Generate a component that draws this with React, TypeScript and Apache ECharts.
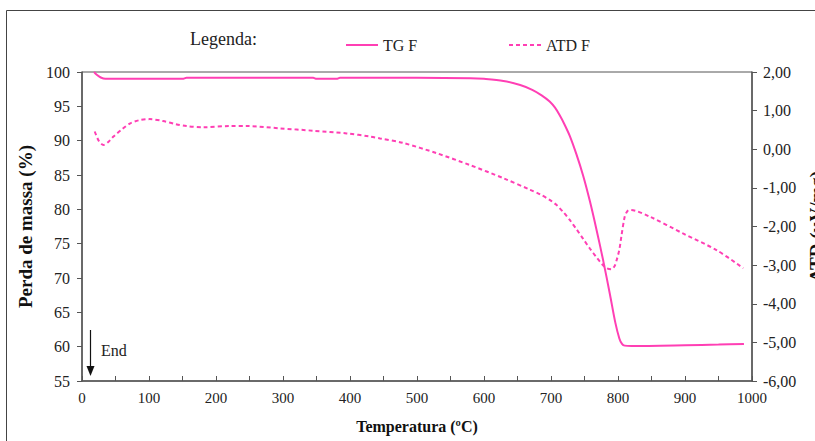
import React, { useEffect, useRef } from "react";
import * as echarts from "echarts";

const tgTemp = [18, 22, 28, 35, 60, 150, 156, 200, 345, 350, 380, 385, 500, 580, 600, 629, 654, 672, 686, 698, 706, 713, 720, 728, 738, 748, 758, 768, 778, 788, 796, 802, 806, 810, 820, 900, 950, 988];
const tgMass = [100, 99.6, 99.2, 99.0, 99.0, 99.0, 99.15, 99.15, 99.15, 99.0, 99.0, 99.15, 99.15, 99.1, 99.0, 98.7, 98.1, 97.4, 96.6, 95.7, 94.8, 93.7, 92.4, 90.7, 88.0, 84.9, 81.2, 77.0, 72.5, 67.6, 63.5, 61.2, 60.4, 60.15, 60.1, 60.2, 60.3, 60.4];

const atdTemp = [19, 25, 32, 40, 47, 60, 72, 85, 101, 121, 140, 156, 181, 221, 246, 296, 345, 395, 430, 445, 480, 529, 579, 629, 669, 684, 698, 708, 718, 728, 738, 748, 758, 768, 776, 783, 790, 795, 798, 802, 805, 810, 814, 818, 848, 897, 947, 987];
const atdSignal = [0.46, 0.22, 0.11, 0.2, 0.33, 0.52, 0.67, 0.75, 0.78, 0.73, 0.65, 0.6, 0.57, 0.6, 0.6, 0.54, 0.48, 0.41, 0.33, 0.28, 0.16, -0.1, -0.41, -0.75, -1.05, -1.17, -1.31, -1.44, -1.62, -1.83, -2.07, -2.32, -2.57, -2.8, -2.97, -3.08, -3.11, -3.02, -2.87, -2.6, -2.26, -1.75, -1.6, -1.57, -1.75, -2.18, -2.61, -3.08];

const seriesNames = ["TG F", "ATD F"];

const FONT = "Liberation Serif";
const PINK = "#ff3fb4";
const AXIS = "#555555";

export default function App() {
  const ref = useRef<HTMLDivElement>(null);
  useEffect(() => {
    if (!ref.current) return;
    const chart = echarts.init(ref.current, undefined, { renderer: "svg" });
    const tgData = tgTemp.map((t, i) => [t, tgMass[i]]);
    const atdData = atdTemp.map((t, i) => [t, atdSignal[i]]);
    chart.setOption({
      animation: false,
      backgroundColor: "#ffffff",
      textStyle: { fontFamily: FONT },
      grid: {
        left: 82, right: 63, top: 72, bottom: 60, show: true, borderColor: AXIS, borderWidth: 1,
        backgroundColor: "transparent", containLabel: false, outerBoundsMode: "none",
      },
      legend: [
        {
          data: [seriesNames[0]], left: 340, top: 32, itemWidth: 32, itemHeight: 10, itemGap: 6,
          itemStyle: { opacity: 0 },
          textStyle: { fontFamily: FONT, fontSize: 16, color: "#222" },
        },
        {
          data: [seriesNames[1]], left: 503, top: 32, itemWidth: 32, itemHeight: 10, itemGap: 6,
          itemStyle: { opacity: 0 },
          textStyle: { fontFamily: FONT, fontSize: 16, color: "#222" },
        },
      ],
      graphic: [
        { type: "rect", shape: { x: 6.5, y: 10.5, width: 900, height: 600 }, style: { fill: "none", stroke: "#444", lineWidth: 1 }, silent: true },
        { type: "text", left: 190, top: 30, style: { text: "Legenda:", font: `18px '${FONT}'`, fill: "#222" } },
        { type: "line", shape: { x1: 90.5, y1: 330, x2: 90.5, y2: 368 }, style: { stroke: "#111", lineWidth: 1.2 } },
        { type: "polygon", shape: { points: [[86.5, 366], [94.5, 366], [90.5, 376]] }, style: { fill: "#111" } },
        { type: "text", left: 101, top: 342, style: { text: "End", font: `16px '${FONT}'`, fill: "#222" } },
      ],
      xAxis: {
        type: "value", min: 0, max: 1000, interval: 50,
        name: "Temperatura (ºC)", nameLocation: "middle", nameGap: 37,
        nameTextStyle: { fontFamily: FONT, fontSize: 16, fontWeight: "bold", color: "#111" },
        axisLine: { onZero: false, lineStyle: { color: AXIS, width: 1.5 } },
        axisTick: { inside: true, length: 5, lineStyle: { color: AXIS } },
        axisLabel: { interval: 1, margin: 9, fontFamily: FONT, fontSize: 15, color: "#222",
          formatter: (v: number) => (v % 100 === 0 ? String(v) : "") },
        splitLine: { show: false },
      },
      yAxis: [
        {
          type: "value", min: 55, max: 100, interval: 5, position: "left",
          name: "Perda de massa (%)", nameLocation: "middle", nameGap: 44,
          nameTextStyle: { fontFamily: FONT, fontSize: 19, fontWeight: "bold", color: "#111" },
          axisLine: { show: true, onZero: false, lineStyle: { color: AXIS, width: 1.5 } },
          axisTick: { show: true, inside: false, length: 5, lineStyle: { color: AXIS } },
          axisLabel: { margin: 12, fontFamily: FONT, fontSize: 16, color: "#222" },
          splitLine: { show: false },
        },
        {
          type: "value", min: -6, max: 2, interval: 1, position: "right",
          name: "ATD (µV/mg)", nameLocation: "middle", nameGap: 48,
          nameTextStyle: { fontFamily: FONT, fontSize: 19, fontWeight: "bold", color: "#111" },
          axisLine: { show: true, onZero: false, lineStyle: { color: AXIS, width: 1.5 } },
          axisTick: { show: true, inside: false, length: 5, lineStyle: { color: AXIS } },
          axisLabel: { margin: 11, fontFamily: FONT, fontSize: 16, color: "#222",
            formatter: (v: number) => v.toFixed(2).replace(".", ",") },
          splitLine: { show: false },
        },
      ],
      series: [
        {
          name: seriesNames[0], type: "line", yAxisIndex: 0, data: tgData, showSymbol: false, symbol: "none",
          smooth: 0.3,
          lineStyle: { color: PINK, width: 2 }, itemStyle: { color: PINK },
        },
        {
          name: seriesNames[1], type: "line", yAxisIndex: 1, data: atdData, showSymbol: false, symbol: "none",
          smooth: 0.3,
          lineStyle: { color: PINK, width: 2, type: [4, 3] }, itemStyle: { color: PINK },
        },
      ],
    });
    return () => chart.dispose();
  }, []);
  return <div ref={ref} style={{ position: "absolute", left: 0, top: 0, width: 815, height: 441 }} />;
}
